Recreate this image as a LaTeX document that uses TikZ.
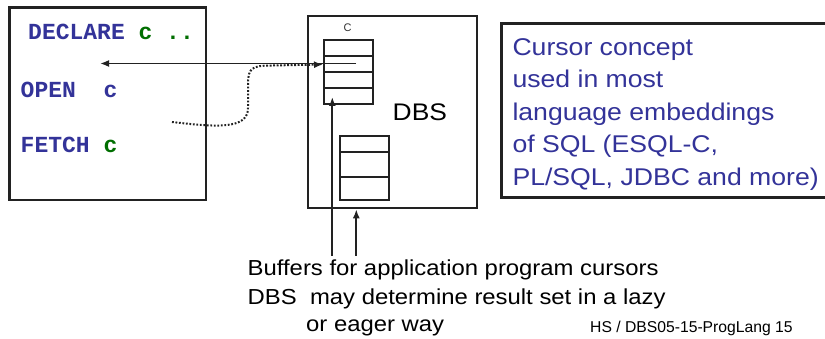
\documentclass[tikz,border=0pt]{standalone}
\usepackage{fontspec}
\setmainfont{Liberation Sans}
\newfontfamily\widesans{Liberation Sans}[FakeStretch=1.1]
\newfontfamily\codefont{Liberation Mono}
\usetikzlibrary{arrows.meta}
\definecolor{navy}{RGB}{51,51,153}
\definecolor{kwgreen}{RGB}{0,110,0}
\definecolor{frame}{RGB}{34,34,34}

\tikzset{
  box/.style={draw=frame, rectangle, inner sep=0pt, fill=white},
  code/.style={anchor=base west, inner sep=0pt, font=\codefont\bfseries\fontsize{23}{23}\selectfont},
  note/.style={anchor=base west, inner sep=0pt, font=\widesans\fontsize{21.7}{21.7}\selectfont},
  tip/.tip={Latex[length=9pt,width=7pt]},
  tipped/.style={-tip, line width=1.9pt, draw=frame},
  dots/.style={line width=2pt, dash pattern=on 1.8pt off 1.7pt, draw=frame},
  rowline/.style={line width=1.8pt, draw=frame},
}

\begin{document}
\begin{tikzpicture}[x=1pt,y=-1pt]
\useasboundingbox (0,0) rectangle (825,339);

% application program
\node[box, line width=2.5pt, minimum width=196.7pt, minimum height=192.7pt] (prog) at (107.65,103.65) {};
\node[code, text=navy] (decl) at (28,40) {DECLARE \textcolor{kwgreen}{c ..}};
\node[code, text=navy] (open) at (20.5,98) {OPEN\ \ c};
\node[code, text=navy] (fetch) at (20.5,153) {FETCH \textcolor{kwgreen}{c}};

% database system
\node[box, line width=2pt, minimum width=169pt, minimum height=192.6pt] (dbs) at (392.2,112) {};
\node[anchor=base west, inner sep=0pt, font=\widesans\fontsize{24}{24}\selectfont] (dbslabel) at (392.5,120.5) {DBS};
\node[inner sep=0pt, font=\fontsize{11}{11}\selectfont, text=black!80] (clabel) at (347.7,28) {C};

% cursor buffer
\node[box, line width=1.9pt, minimum width=48.7pt, minimum height=64pt] (cur) at (348.35,72) {};
\foreach \yy in {55.7,71.7,88.3} \draw[rowline] (cur.west |- 0,\yy) -- (cur.east |- 0,\yy);
% second buffer
\node[box, line width=1.9pt, minimum width=48.7pt, minimum height=64.3pt] (buf) at (364.35,167.85) {};
\foreach \yy in {151.7,176.7} \draw[rowline] (buf.west |- 0,\yy) -- (buf.east |- 0,\yy);

% cursor row and its links to the program
\coordinate (rowend) at (356,63.5);
\coordinate (progend) at (100,63.5);
\draw[tipped] (rowend) -- (progend);
\coordinate (fetchpt) at (172,122);
\coordinate (rowstart) at (323,64.5);
\draw[dots, -tip] (fetchpt) .. controls (215,127) and (248,130) .. (248,108)
   -- (248,84) .. controls (248,68) and (252,65.5) .. (272,65.5) -- (rowstart);

% info box on the right
\node[box, line width=3pt, minimum width=340pt, minimum height=173.5pt, anchor=north west] (info) at (500,22.5) {};
\begin{scope}[every node/.style={anchor=base west, inner sep=0pt, text=navy, font=\widesans\fontsize{24.2}{24.2}\selectfont}]
\node (i1) at (512.3,55.5) {Cursor concept};
\node (i2) at (512.3,88) {used in most};
\node (i3) at (512.3,120.5) {language embeddings};
\node (i4) at (512.3,153) {of SQL (ESQL-C,};
\node (i5) at (512.3,185.5) {PL/SQL, JDBC and more)};
\end{scope}

% explanation below
\node[note] (b1) at (247.5,275.5) {Buffers for application program cursors};
\node[note] (b2) at (247.5,304.5) {DBS\ \ may determine result set in a lazy};
\node[note] (b3) at (306,331.5) {or eager way};
\node[anchor=base west, inner sep=0pt, font=\fontsize{15.7}{15.7}\selectfont] (foot) at (590,332.5) {HS / DBS05-15-ProgLang 15};

\coordinate (foot1) at (332.3,256);
\coordinate (foot2) at (356.3,256);
\draw[tipped] (foot1) -- (332.3,97) coordinate (curtip);
\draw[tipped] (foot2) -- (dbs.south -| foot2);
\end{tikzpicture}
\end{document}
